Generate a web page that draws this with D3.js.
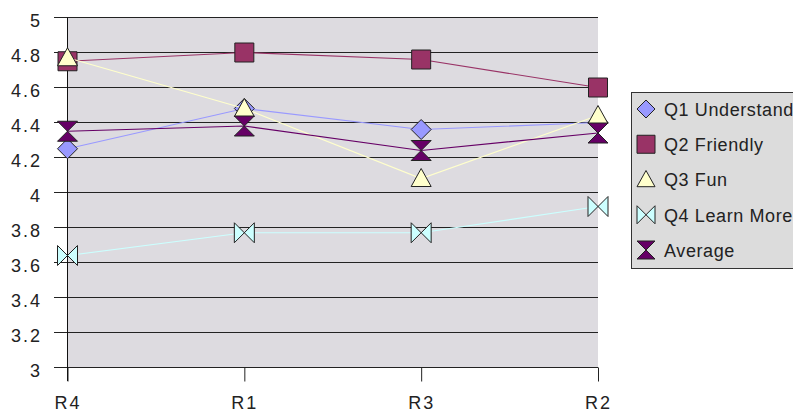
<!DOCTYPE html>
<html><head><meta charset="utf-8">
<script src="https://cdn.jsdelivr.net/npm/d3@7"></script>
<style>
html,body{margin:0;padding:0;background:#fff;overflow:hidden}
text{font-family:"Liberation Sans",Arial,sans-serif;fill:#222}
</style></head><body>
<svg id="c" width="793" height="417"></svg>
<script>
const categories = ["R4","R1","R3","R2"];
const seriesNames = ["Q1 Understanding","Q2 Friendly","Q3 Fun","Q4 Learn More","Average"];
const q1 = [4.25, 4.48, 4.36, 4.40];
const q2 = [4.75, 4.80, 4.76, 4.60];
const q3 = [4.77, 4.48, 4.08, 4.44];
const q4 = [3.64, 3.77, 3.77, 3.92];
const avg = [4.35, 4.38, 4.24, 4.34];
const yTicks = [3,3.2,3.4,3.6,3.8,4,4.2,4.4,4.6,4.8,5];
const yTickLabels = ["3","3.2","3.4","3.6","3.8","4","4.2","4.4","4.6","4.8","5"];

const series = [
  {name:seriesNames[0], values:q1, line:"#9999ff", fill:"#9999ff", shape:"diamond"},
  {name:seriesNames[1], values:q2, line:"#993366", fill:"#993366", shape:"square"},
  {name:seriesNames[2], values:q3, line:"#ffffcc", fill:"#ffffcc", shape:"triangle"},
  {name:seriesNames[3], values:q4, line:"#ccffff", fill:"#ccffff", shape:"bowtie"},
  {name:seriesNames[4], values:avg, line:"#660066", fill:"#660066", shape:"hourglass"}
];

const svg = d3.select("#c");
const x = d3.scalePoint().domain(categories).range([67.5, 598]);
const y = d3.scaleLinear().domain([3,5]).range([367.5, 17.5]);

// plot background
svg.append("rect").attr("x", 67.5).attr("y", 17.5).attr("width", 598-67.5).attr("height", 350)
  .attr("fill", "#dddbe0");

// y tick labels
const ga = svg.append("g").attr("transform","translate(54,0)")
  .call(d3.axisLeft(y).tickValues(yTicks).tickSize(0).tickFormat((d,i)=>yTickLabels[i]).tickPadding(12));
ga.select(".domain").remove();
ga.selectAll("text").style("font-size","18px").attr("fill","#222").style("letter-spacing","2px")
  .attr("dy","0.5em");
// gridlines
svg.append("g").selectAll("line").data(yTicks).join("line")
  .attr("x1", 54).attr("x2", 598).attr("y1", d=>y(d)).attr("y2", d=>y(d))
  .attr("stroke", "#222").attr("stroke-width", 1);

// x axis
const gx = svg.append("g").attr("transform","translate(0,367.5)")
  .call(d3.axisBottom(x).tickSize(14).tickPadding(15));
gx.select(".domain").remove();
gx.selectAll(".tick line").attr("stroke","#222");
gx.selectAll("text").style("font-size","18px").attr("fill","#222").style("letter-spacing","2px");
// left axis line
svg.append("line").attr("x1",67.5).attr("x2",67.5).attr("y1",17.5).attr("y2",381).attr("stroke","#111");

function shapePath(shape, s) {
  const h = s/2;
  switch(shape){
    case "diamond": return `M0,${-h}L${h},0L0,${h}L${-h},0Z`;
    case "square": return `M${-h},${-h}H${h}V${h}H${-h}Z`;
    case "triangle": return `M0,${-h}L${h},${h*0.8}L${-h},${h*0.8}Z`;
    case "bowtie": return `M${-h},${-h}L${h},${h}L${h},${-h}L${-h},${h}Z`;
    case "hourglass": return `M${-h},${-h}L${h},${-h}L${-h},${h}L${h},${h}Z`;
  }
}

const line = d3.line().x((d,i)=>x(categories[i])).y(d=>y(d));
series.forEach(s => {
  const g = svg.append("g");
  g.append("path").attr("d", line(s.values)).attr("fill","none").attr("stroke", s.line).attr("stroke-width",1.2);
  g.selectAll("path.m").data(s.values).join("path").attr("class","m")
    .attr("transform",(d,i)=>`translate(${x(categories[i])},${y(d)})`)
    .attr("d", shapePath(s.shape, s.shape==="square"?19:20))
    .attr("fill", s.fill).attr("stroke","#222").attr("stroke-width",1);
});

// legend
const lg = svg.append("g");
lg.append("rect").attr("x",631.5).attr("y",92.5).attr("width",180).attr("height",176)
  .attr("fill","#dcdcdc").attr("stroke","#333").attr("stroke-width",1);
const ly = d3.scalePoint().domain(seriesNames).range([109,250]);
series.forEach(s => {
  const cy = ly(s.name);
  lg.append("path").attr("transform",`translate(646,${cy})`).attr("d", shapePath(s.shape, 18))
    .attr("fill", s.fill).attr("stroke","#222").attr("stroke-width",1);
  lg.append("text").attr("x",664).attr("y",cy).attr("dy","0.38em").style("font-size","18px")
    .style("letter-spacing","0.6px").text(s.name);
});
</script>
</body></html>
